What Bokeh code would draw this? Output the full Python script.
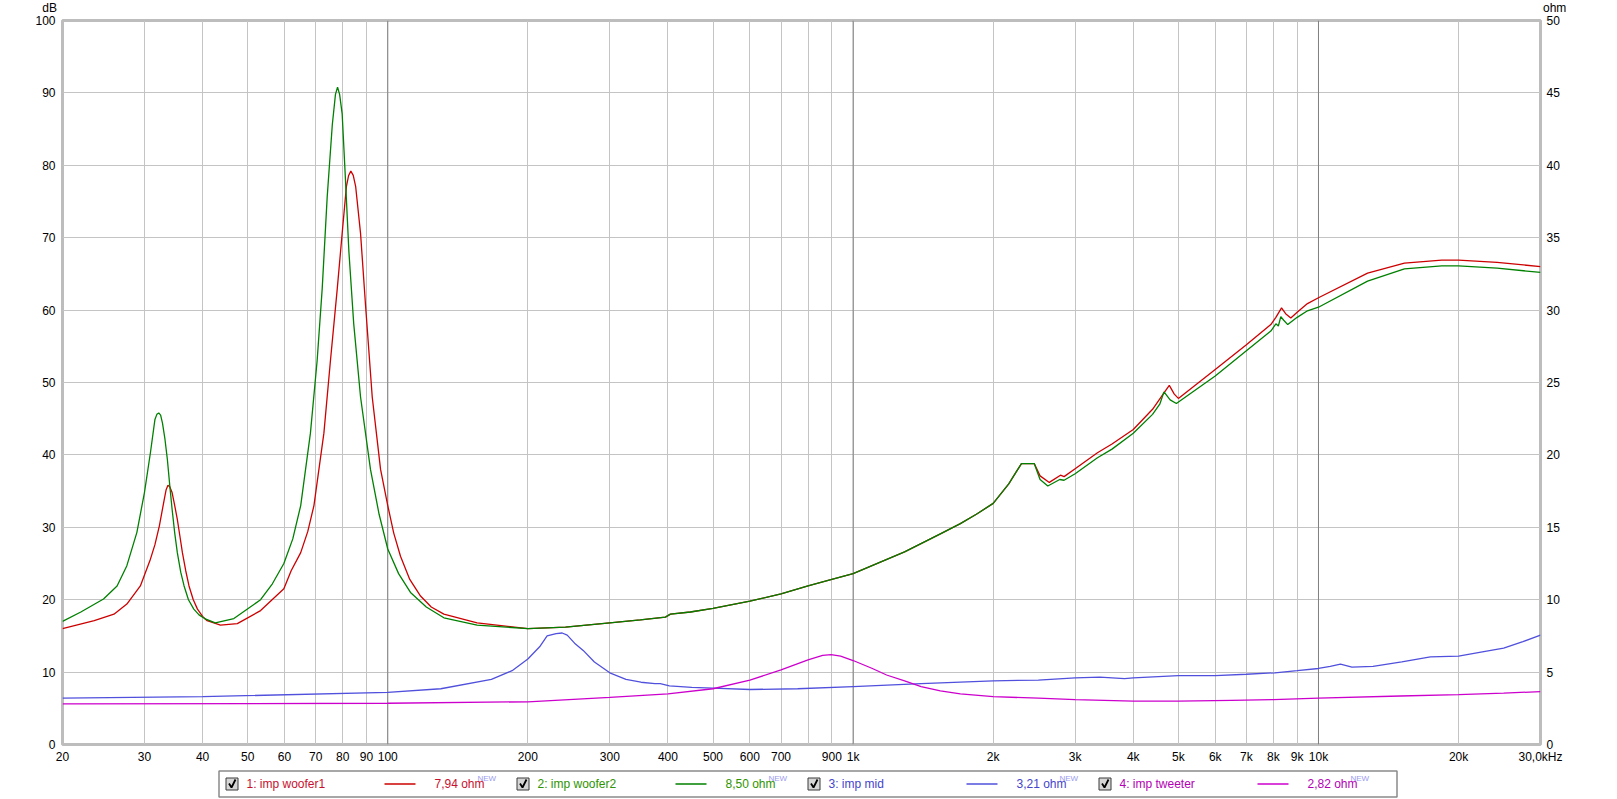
from bokeh.plotting import figure
from bokeh.models import Range1d, LinearAxis, FixedTicker, Span, Div
from bokeh.layouts import column
from bokeh.core.properties import value
from bokeh.embed import file_html
from bokeh.resources import INLINE

# ---------------- data (impedance in ohm, right axis) ----------------
woofer1_freq = [20, 23.4, 25.8, 27.5, 29.4, 30.9, 31.6, 32.3, 33.1, 33.4, 33.7, 34.0, 34.4, 34.8, 35.3, 35.75,
                36.2, 36.8, 37.4, 38.2, 39.0, 40.0, 40.9, 43.7, 47.5, 53.3, 59.8, 62.0, 65.0, 67.3, 69.4, 72.9,
                75.3, 77.9, 79.8, 81.5, 82.4, 83.3, 84.3, 85.3, 87.4, 89.6, 92.6, 96.5, 100, 103, 106.5, 111.5,
                117.6, 124, 132, 155.6, 200, 241, 300, 349, 395, 405, 447, 500, 600, 700, 800, 900, 1000, 1290,
                1540, 1700, 1840, 2000, 2160, 2300, 2450, 2522, 2640, 2790, 2840, 3000, 3350, 3600, 4000, 4400,
                4660, 4780, 4900, 5000, 6000, 7000, 7900, 8100, 8330, 8500, 8720, 9000, 9470, 10000, 12750,
                15300, 18400, 20000, 24200, 30000]
woofer1_ohm = [8.0, 8.55, 9.0, 9.7, 10.95, 12.8, 13.8, 15.1, 16.95, 17.6, 17.9, 17.8, 17.4, 16.6, 15.55, 14.4,
               13.25, 12.0, 10.95, 10.0, 9.35, 8.85, 8.55, 8.25, 8.35, 9.25, 10.75, 12.0, 13.25, 14.7, 16.5, 21.5,
               26.5, 31.5, 35.3, 38.55, 39.3, 39.6, 39.3, 38.55, 35.3, 30.3, 24.0, 19.0, 16.5, 14.6, 13.0, 11.4,
               10.25, 9.5, 9.0, 8.4, 8.0, 8.1, 8.4, 8.6, 8.8, 9.0, 9.15, 9.4, 9.9, 10.4, 10.95, 11.4, 11.8, 13.3,
               14.55, 15.25, 15.9, 16.65, 18.0, 19.4, 19.4, 18.55, 18.1, 18.6, 18.5, 19.05, 20.15, 20.75, 21.75, 23.15,
               24.3, 24.8, 24.2, 23.9, 25.9, 27.6, 29.0, 29.5, 30.15, 29.75, 29.45, 29.85, 30.45, 30.85, 32.55,
               33.25, 33.45, 33.45, 33.3, 33.0]

woofer2_freq = [20, 21.9, 24.5, 26.2, 27.5, 28.9, 30.0, 30.9, 31.6, 31.9, 32.2, 32.5, 32.8, 33.2, 33.6, 34.0,
                34.4, 34.85, 35.3, 35.9, 36.5, 37.3, 38.3, 39.3, 40.4, 42.6, 46.7, 53.3, 56.5, 59.8, 62.5, 65.0,
                68.2, 70.5, 72.3, 74.1, 76.0, 77.2, 78.0, 78.8, 79.8, 81.1, 82.5, 84.5, 87.4, 91.8, 95.8, 100,
                105.5, 111.9, 121, 132, 155.6, 200, 241, 300, 349, 395, 405, 447, 500, 600, 700, 800, 900, 1000,
                1290, 1540, 1700, 1840, 2000, 2160, 2300, 2450, 2522, 2620, 2780, 2840, 3000, 3350, 3600, 4000,
                4400, 4560, 4656, 4800, 4950, 6000, 7000, 7900, 8100, 8200, 8300, 8420, 8590, 9000, 9470, 10000,
                12750, 15300, 18400, 20000, 24200, 30000]
woofer2_ohm = [8.5, 9.15, 10.05, 10.95, 12.35, 14.65, 17.4, 20.15, 22.45, 22.8, 22.9, 22.75, 22.2, 21.1, 19.7, 17.9,
               16.25, 14.6, 13.25, 11.9, 10.95, 10.0, 9.35, 8.95, 8.7, 8.4, 8.7, 10.0, 11.1, 12.5, 14.2, 16.5,
               21.5, 26.5, 31.5, 37.8, 42.8, 44.9, 45.4, 44.9, 43.55, 39.05, 34.05, 29.05, 24.0, 19.0, 15.9, 13.5,
               11.8, 10.5, 9.5, 8.75, 8.25, 8.0, 8.1, 8.4, 8.6, 8.8, 9.0, 9.15, 9.4, 9.9, 10.4, 10.95, 11.4, 11.8,
               13.3, 14.55, 15.25, 15.9, 16.65, 18.0, 19.4, 19.4, 18.3, 17.85, 18.3, 18.25, 18.7, 19.8, 20.4, 21.5,
               22.8, 23.5, 24.35, 23.8, 23.55, 25.45, 27.2, 28.55, 29.05, 28.9, 29.55, 29.3, 29.0, 29.5, 29.95, 30.2,
               32.0, 32.85, 33.05, 33.05, 32.9, 32.6]

mid_freq = [20, 40, 100, 130, 167, 185, 200, 212, 220, 230, 237, 243, 252, 263, 278, 300, 325, 350, 375, 385,
            403, 450, 500, 600, 760, 1000, 1400, 2000, 2500, 3000, 3390, 3830, 4000, 5000, 6000, 7000, 8060,
            9000, 10000, 10600, 11150, 11800, 13100, 15100, 17400, 20000, 22500, 25000, 27500, 30000]
mid_ohm = [3.2, 3.3, 3.6, 3.85, 4.5, 5.1, 5.9, 6.75, 7.5, 7.65, 7.7, 7.55, 7.0, 6.5, 5.7, 4.95, 4.5, 4.3, 4.2, 4.2,
           4.05, 3.95, 3.9, 3.8, 3.85, 4.0, 4.2, 4.4, 4.45, 4.6, 4.65, 4.55, 4.6, 4.75, 4.75, 4.85, 4.95,
           5.1, 5.25, 5.4, 5.55, 5.35, 5.4, 5.7, 6.05, 6.1, 6.4, 6.65, 7.1, 7.55]

tweeter_freq = [20, 100, 200, 300, 400, 500, 600, 700, 800, 860, 897, 940, 1000, 1100, 1180, 1290, 1400, 1540,
                1700, 2000, 2500, 3000, 4000, 5000, 6500, 8000, 10000, 15000, 20000, 25000, 30000]
tweeter_ohm = [2.8, 2.85, 2.95, 3.25, 3.5, 3.85, 4.45, 5.15, 5.85, 6.15, 6.2, 6.1, 5.8, 5.25, 4.8, 4.4, 4.0, 3.7,
               3.5, 3.3, 3.2, 3.1, 3.0, 3.0, 3.05, 3.1, 3.2, 3.35, 3.45, 3.55, 3.65]

series_names = ["1: imp woofer1", "2: imp woofer2", "3: imp mid", "4: imp tweeter"]
series_values = ["7,94 ohm", "8,50 ohm", "3,21 ohm", "2,82 ohm"]
left_unit, right_unit = "dB", "ohm"

x_ticks = [20, 30, 40, 50, 60, 70, 80, 90, 100, 200, 300, 400, 500, 600, 700, 800, 900,
           1000, 2000, 3000, 4000, 5000, 6000, 7000, 8000, 9000, 10000, 20000, 30000]
x_tick_labels = ["20", "30", "40", "50", "60", "70", "80", "90", "100", "200", "300", "400", "500", "600",
                 "700", "", "900", "1k", "2k", "3k", "4k", "5k", "6k", "7k", "8k", "9k", "10k", "20k", "30,0kHz"]
decades = [100, 1000, 10000]
db_ticks = [0, 10, 20, 30, 40, 50, 60, 70, 80, 90, 100]
ohm_ticks = [0, 5, 10, 15, 20, 25, 30, 35, 40, 45, 50]

# ---------------- style ----------------
line_colors = ["#cc0000", "#008000", "#5050dd", "#cc00cc"]
text_colors = ["#c8102e", "#2e9400", "#4444cc", "#b400b4"]
FONT = "Liberation Sans"
W = 1617
TOP_H = 13
MAIN_H = 753
LEG_H = 32
BL, BR = 62, 77          # borders around the plot frame
FR_L, FR_R = BL, W - BR  # frame edges in page pixels

# unit captions above the two value axes
top = Div(text=(f'<div style="position:relative;width:{W}px;height:{TOP_H}px;font-family:\'{FONT}\',sans-serif;'
                f'font-size:12px;line-height:10px;color:#000;white-space:nowrap;">'
                f'<span style="position:absolute;right:{W - 57}px;top:3px;">{left_unit}</span>'
                f'<span style="position:absolute;left:1543px;top:3px;">{right_unit}</span></div>'),
          width=W, height=TOP_H, margin=(0, 0, 0, 0))

p = figure(width=W, height=MAIN_H, x_axis_type="log", x_range=Range1d(20, 30000), y_range=Range1d(0, 100),
           output_backend="svg", toolbar_location=None,
           min_border_left=BL, min_border_right=BR, min_border_top=7, min_border_bottom=20)
p.background_fill_color = "white"
p.border_fill_color = "white"
p.outline_line_color = "#bdbdbd"
p.outline_line_width = 3

p.extra_y_ranges = {"ohm": Range1d(0, 50)}
right_axis = LinearAxis(y_range_name="ohm", ticker=FixedTicker(ticks=ohm_ticks, minor_ticks=[]))
p.add_layout(right_axis, "right")

p.xaxis.ticker = FixedTicker(ticks=x_ticks, minor_ticks=[])
p.xaxis.major_label_overrides = {t: s for t, s in zip(x_ticks, x_tick_labels)}
p.yaxis[0].ticker = FixedTicker(ticks=db_ticks, minor_ticks=[])

for ax in p.axis:
    ax.axis_line_color = None
    ax.major_tick_line_color = None
    ax.minor_tick_line_color = None
    ax.major_tick_out = 0
    ax.major_tick_in = 0
    ax.minor_tick_out = 0
    ax.minor_tick_in = 0
    ax.major_label_text_font = FONT
    ax.major_label_text_font_size = "12px"
    ax.major_label_text_color = "#000000"
p.xaxis.major_label_standoff = 5
p.yaxis[0].major_label_standoff = 7
right_axis.major_label_standoff = 6
right_axis.major_label_text_align = "left"

p.xgrid.ticker = FixedTicker(ticks=x_ticks, minor_ticks=[])
p.ygrid.ticker = FixedTicker(ticks=db_ticks, minor_ticks=[])
p.xgrid.grid_line_color = "#c4c4c4"
p.ygrid.grid_line_color = "#c4c4c4"

for d in decades:
    p.add_layout(Span(location=d, dimension="height", line_color="#808080", line_width=1, level="underlay"))

curves = [(woofer1_freq, woofer1_ohm), (woofer2_freq, woofer2_ohm), (mid_freq, mid_ohm), (tweeter_freq, tweeter_ohm)]
for (fx, fy), c in zip(curves, line_colors):
    p.line(x=fx, y=fy, y_range_name="ohm", line_color=c, line_width=1.3)

# ---------------- legend strip (frame aligned with the main frame; x in page pixels) ----------------
L = figure(width=W, height=LEG_H, x_range=Range1d(FR_L, FR_R), y_range=Range1d(0, LEG_H), output_backend="svg",
           toolbar_location=None, x_axis_location=None, y_axis_location=None,
           min_border_left=BL, min_border_right=BR, min_border_top=0, min_border_bottom=0)
L.grid.visible = False
L.outline_line_color = None
L.background_fill_color = "white"
L.border_fill_color = "white"

L.quad(left=[218.5], right=[1396.5], bottom=[1.5], top=[27.5], fill_color="white",
       line_color="#8a8a8a", line_width=1.5)

yc = 14.5
step = 291
x0 = 225
cx = [x0 + step * i for i in range(4)]
L.quad(left=[c + 0.5 for c in cx], right=[c + 12.5 for c in cx], bottom=[yc - 6] * 4, top=[yc + 6] * 4,
       fill_color="#d6d6d6", line_color="#3a3a3a", line_width=1)
L.multi_line(xs=[[c + 3.5, c + 6, c + 10] for c in cx], ys=[[yc + 0.5, yc - 3.5, yc + 4.5]] * 4,
             line_color="#000000", line_width=1.8)
L.text(x=[c + 21 for c in cx], y=[yc] * 4, text=series_names, text_color=text_colors,
       text_font=value(FONT), text_font_size="12px", text_baseline="middle", text_align="left")
L.segment(x0=[c + 159 for c in cx], x1=[c + 190 for c in cx], y0=[yc] * 4, y1=[yc] * 4,
          line_color=line_colors, line_width=1.3)
L.text(x=[c + 209 for c in cx], y=[yc] * 4, text=series_values, text_color=text_colors,
       text_font=value(FONT), text_font_size="12px", text_baseline="middle", text_align="left")
L.text(x=[c + 252 for c in cx], y=[yc + 1.5] * 4, text=["NEW"] * 4, text_color="#9a9af0",
       text_font=value(FONT), text_font_size="8px", text_baseline="bottom", text_align="left")

layout = column(top, p, L, spacing=0)
open("out.html", "w").write(file_html(layout, INLINE))
